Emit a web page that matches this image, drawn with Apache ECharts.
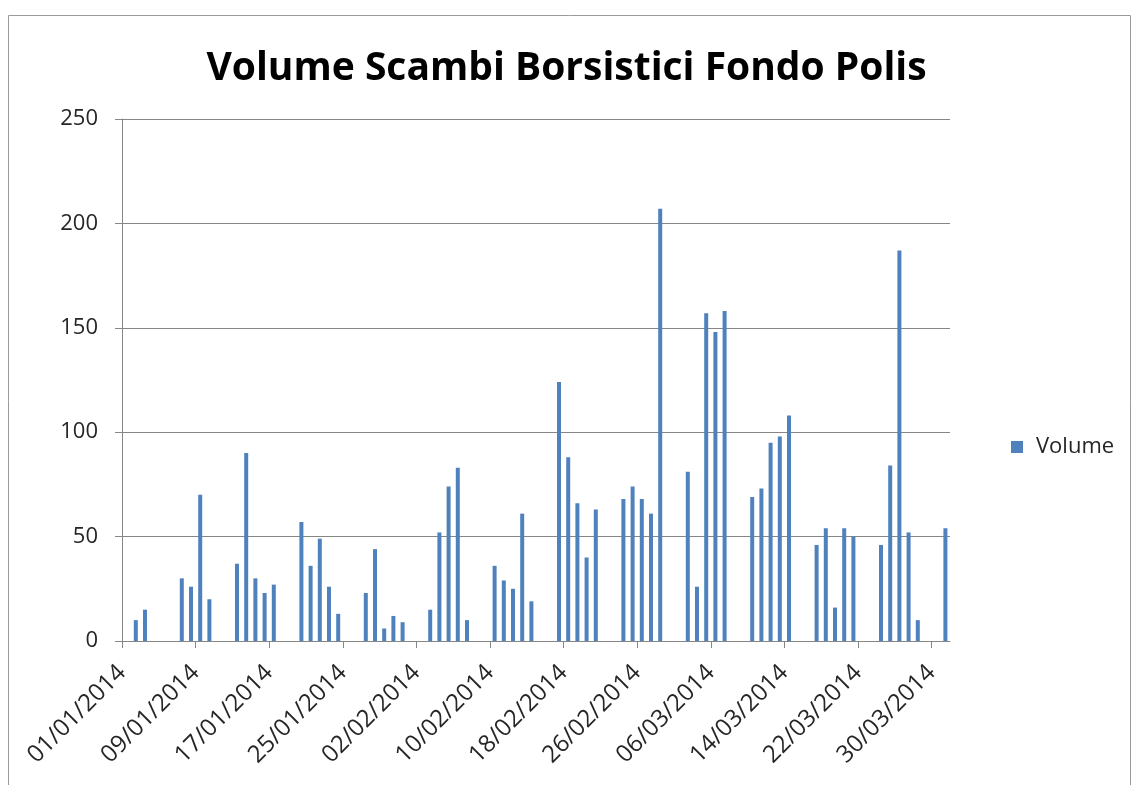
<!DOCTYPE html>
<html>
<head>
<meta charset="utf-8">
<title>Volume Scambi Borsistici Fondo Polis</title>
<script src="https://cdn.jsdelivr.net/npm/echarts@6/dist/echarts.min.js"></script>
<style>
  html, body { margin: 0; padding: 0; background: #fff; }
  #main { width: 1133px; height: 785px; }
</style>
</head>
<body>
<div id="main"></div>
<script>
// giorni di contrattazione (dd/mm/yyyy) e volumi
var dates = [
  '02/01/2014', '03/01/2014',
  '07/01/2014', '08/01/2014', '09/01/2014', '10/01/2014',
  '13/01/2014', '14/01/2014', '15/01/2014', '16/01/2014', '17/01/2014',
  '20/01/2014', '21/01/2014', '22/01/2014', '23/01/2014', '24/01/2014',
  '27/01/2014', '28/01/2014', '29/01/2014', '30/01/2014', '31/01/2014',
  '03/02/2014', '04/02/2014', '05/02/2014', '06/02/2014', '07/02/2014',
  '10/02/2014', '11/02/2014', '12/02/2014', '13/02/2014', '14/02/2014',
  '17/02/2014', '18/02/2014', '19/02/2014', '20/02/2014', '21/02/2014',
  '24/02/2014', '25/02/2014', '26/02/2014', '27/02/2014', '28/02/2014',
  '03/03/2014', '04/03/2014', '05/03/2014', '06/03/2014', '07/03/2014',
  '10/03/2014', '11/03/2014', '12/03/2014', '13/03/2014', '14/03/2014',
  '17/03/2014', '18/03/2014', '19/03/2014', '20/03/2014', '21/03/2014',
  '24/03/2014', '25/03/2014', '26/03/2014', '27/03/2014', '28/03/2014',
  '31/03/2014'
];
var volumes = [
  10, 15,
  30, 26, 70, 20,
  37, 90, 30, 23, 27,
  57, 36, 49, 26, 13,
  23, 44, 6, 12, 9,
  15, 52, 74, 83, 10,
  36, 29, 25, 61, 19,
  124, 88, 66, 40, 63,
  68, 74, 68, 61, 207,
  81, 26, 157, 148, 158,
  69, 73, 95, 98, 108,
  46, 54, 16, 54, 50,
  46, 84, 187, 52, 10,
  54
];
var tickLabels = [
  '01/01/2014', '09/01/2014', '17/01/2014', '25/01/2014', '02/02/2014', '10/02/2014',
  '18/02/2014', '26/02/2014', '06/03/2014', '14/03/2014', '22/03/2014', '30/03/2014'
];
var startDate = '01/01/2014';
var endDate = '01/04/2014';
var yTicks = [0, 50, 100, 150, 200, 250];

var DAY = 86400000;
function parseDate(s) {
  var p = s.split('/');
  return Date.UTC(+p[2], +p[1] - 1, +p[0]);
}
function dayOffset(s) {
  return Math.round((parseDate(s) - parseDate(startDate)) / DAY);
}
function pad(n) { return n < 10 ? '0' + n : '' + n; }
function formatOffset(v) {
  var d = new Date(parseDate(startDate) + Math.round(v) * DAY);
  return pad(d.getUTCDate()) + '/' + pad(d.getUTCMonth() + 1) + '/' + d.getUTCFullYear();
}

var tickDays = tickLabels.map(dayOffset);
// ogni barra sta al centro del suo giorno (asse "tra i segni di graduazione")
var barData = dates.map(function (d, i) { return [dayOffset(d) + 0.5, volumes[i]]; });

var myChart = echarts.init(document.getElementById('main'));
var axisGrey = '#868686';
var font = '"Open Sans", "DejaVu Sans", sans-serif';

var option = {
  animation: false,
  backgroundColor: '#fff',
  textStyle: { fontFamily: font },
  title: {
    text: 'Volume Scambi Borsistici Fondo Polis',
    left: 'center',
    top: 44,
    textStyle: { fontFamily: font, fontSize: 39, fontWeight: 'bold', color: '#000' }
  },
  legend: {
    data: ['Volume'],
    orient: 'vertical',
    left: 1006,
    top: 431,
    icon: 'rect',
    itemWidth: 12,
    itemHeight: 12,
    textStyle: { fontFamily: font, fontSize: 22, color: '#262626', padding: [0, 0, 0, 8] }
  },
  graphic: [{
    type: 'rect',
    shape: { x: 8.5, y: 15.5, width: 1122, height: 800 },
    style: { fill: 'none', stroke: '#9a9a9a', lineWidth: 1 },
    silent: true
  }],
  grid: { left: 122, right: 183, top: 119, bottom: 144 },
  xAxis: {
    type: 'value',
    min: 0,
    max: dayOffset(endDate),
    interval: 8,
    splitLine: { show: false },
    axisLine: { lineStyle: { color: axisGrey, width: 1 } },
    axisTick: { show: true, length: 7, customValues: tickDays, lineStyle: { color: axisGrey } },
    axisLabel: {
      customValues: tickDays,
      rotate: 45,
      margin: 28,
      fontSize: 24,
      color: '#262626',
      formatter: function (v) { return formatOffset(v); }
    }
  },
  yAxis: {
    type: 'value',
    min: yTicks[0],
    max: yTicks[yTicks.length - 1],
    interval: 50,
    axisLine: { show: true, lineStyle: { color: axisGrey, width: 1 } },
    axisTick: { show: true, length: 7, lineStyle: { color: axisGrey } },
    splitLine: { lineStyle: { color: axisGrey, width: 1 } },
    axisLabel: { fontSize: 22, color: '#262626', margin: 24 }
  },
  series: [{
    name: 'Volume',
    type: 'bar',
    barWidth: 4,
    data: barData,
    itemStyle: { color: '#4F81BD' }
  }]
};
myChart.setOption(option);
</script>
</body>
</html>
